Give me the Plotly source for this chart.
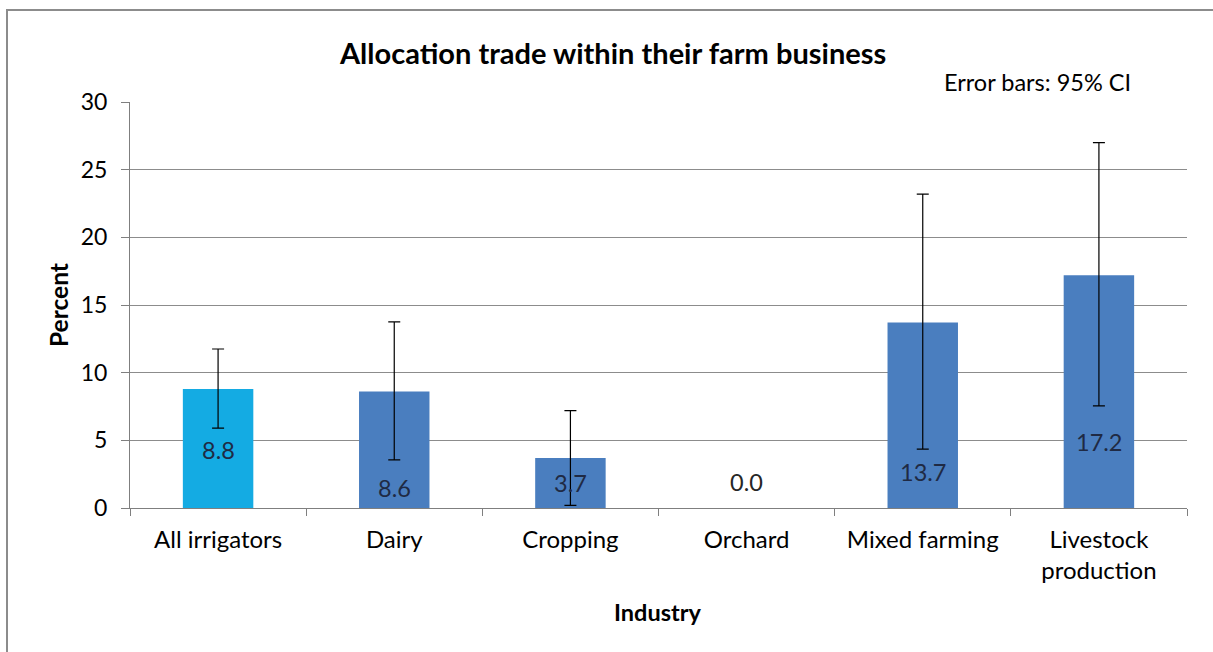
import plotly.graph_objects as go

categories = ["All irrigators", "Dairy", "Cropping", "Orchard", "Mixed farming", "Livestock<br>production"]
values = [8.8, 8.6, 3.7, 0.0, 13.7, 17.2]
ci_upper = [11.75, 13.75, 7.2, None, 23.2, 27.0]
ci_lower = [5.9, 3.55, 0.2, None, 4.35, 7.55]
value_labels = ["8.8", "8.6", "3.7", "0.0", "13.7", "17.2"]
label_y = [4.3, 1.5, 1.85, 1.9, 2.65, 4.9]

bar_colors = ["#14ABE3"] + ["#4A7EBF"] * 5
label_colors = ["#1F2A44"] * 3 + ["#262626"] + ["#1F2A44"] * 2

FONT = "Lato, 'Open Sans', sans-serif"

fig = go.Figure()
fig.add_trace(go.Bar(
    x=categories, y=values, width=0.4,
    marker=dict(color=bar_colors, line=dict(width=0)),
    showlegend=False, hoverinfo="skip",
))

# error bars (95% CI), only where a CI exists
ex, ey, ep, em = [], [], [], []
for c, v, u, l in zip(categories, values, ci_upper, ci_lower):
    if u is None:
        continue
    ex.append(c); ey.append(v); ep.append(u - v); em.append(v - l)
fig.add_trace(go.Scatter(
    x=ex, y=ey, mode="markers", marker=dict(size=0.1, color="rgba(0,0,0,0)"),
    error_y=dict(type="data", symmetric=False, array=ep, arrayminus=em,
                 color="#000000", thickness=1.2, width=6),
    showlegend=False, hoverinfo="skip",
))

for c, t, ly, col in zip(categories, value_labels, label_y, label_colors):
    fig.add_annotation(x=c, y=ly, text=t, showarrow=False, xanchor="center", yanchor="middle",
                       font=dict(family=FONT, size=23.5, color=col))

L, R, T, B = 130, 26, 102, 144
W, H = 1213, 652
pw, ph = W - L - R, H - T - B

def px_x(x):
    return (x - L) / pw

def px_y(y):
    return (H - B - y) / ph

fig.add_shape(type="rect", xref="paper", yref="paper",
              x0=px_x(7), x1=px_x(1214),
              y0=px_y(660), y1=px_y(10),
              line=dict(color="#8C8C8C", width=2), layer="below")

def text_at(x, y, text, size, angle=0):
    fig.add_annotation(xref="paper", yref="paper", x=px_x(x), y=px_y(y), text=text,
                       showarrow=False, xanchor="center", yanchor="middle", textangle=angle,
                       font=dict(family=FONT, size=size, color="#000000"))

text_at(612, 52, "<b>Allocation trade within their farm business</b>", 29)
text_at(1037, 82, "Error bars: 95% CI", 23.5)
text_at(58, 305, "<b>Percent</b>", 24.5, -90)
text_at(657, 612, "<b>Industry</b>", 23.5)

fig.update_layout(
    width=W, height=H,
    margin=dict(l=L, r=R, t=T, b=B, autoexpand=False),
    paper_bgcolor="white", plot_bgcolor="white",
    font=dict(family=FONT, size=23, color="#000000"),
)
fig.update_yaxes(range=[0, 30], dtick=5, showgrid=True, gridcolor="#8C8C8C", gridwidth=1,
                 showline=True, linecolor="#7F7F7F", linewidth=1,
                 ticks="outside", ticklen=8, tickcolor="#7F7F7F", ticklabelstandoff=9,
                 tickfont=dict(size=23), zeroline=False, automargin=False)
fig.update_xaxes(showline=True, linecolor="#7F7F7F", linewidth=1,
                 ticks="outside", ticklen=7, tickcolor="#7F7F7F", tickson="boundaries",
                 ticklabelstandoff=10,
                 tickfont=dict(size=24), tickangle=0, automargin=False)

fig.write_html("out.html", config={"displayModeBar": False},
               post_script="document.body.style.margin='0';")
